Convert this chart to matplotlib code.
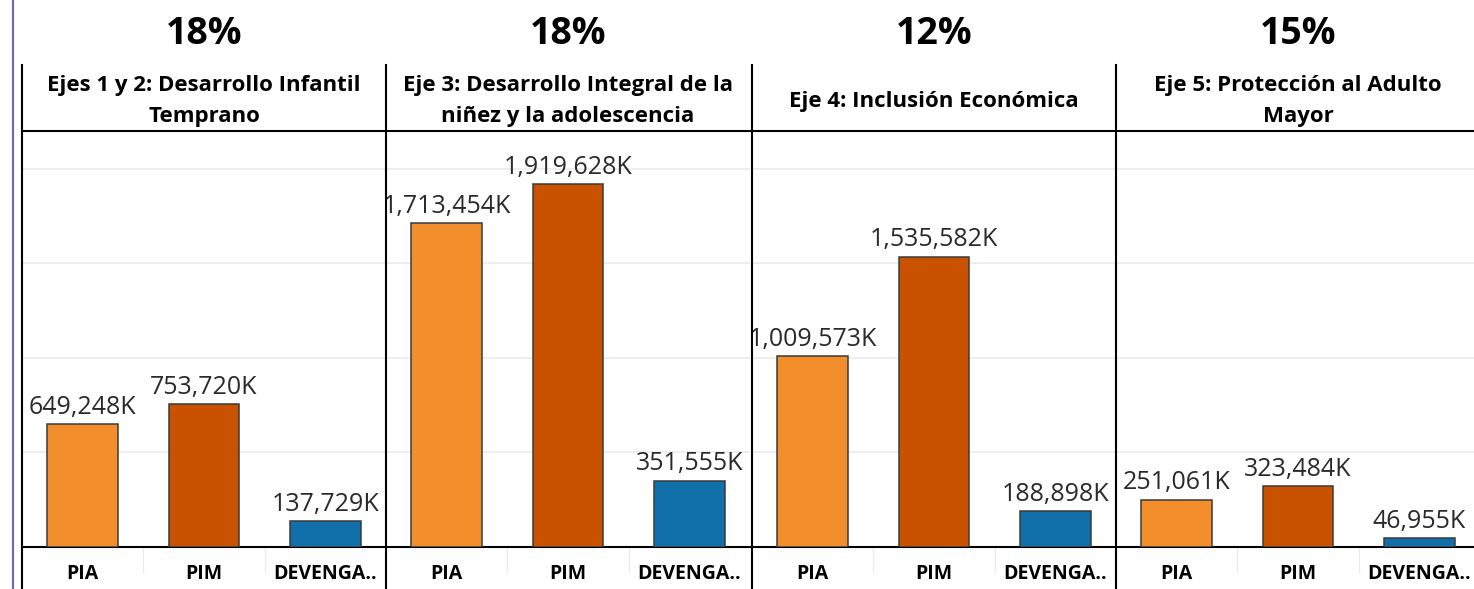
import numpy as np
import matplotlib.pyplot as plt
from matplotlib.lines import Line2D

plt.rcParams['font.family'] = ['Open Sans', 'DejaVu Sans']

# data (values in thousands, shown with "K")
ejes = ["Ejes 1 y 2: Desarrollo Infantil\nTemprano",
        "Eje 3: Desarrollo Integral de la\nniñez y la adolescencia",
        "Eje 4: Inclusión Económica",
        "Eje 5: Protección al Adulto\nMayor"]
porcentajes = ["18%", "18%", "12%", "15%"]
categorias = ["PIA", "PIM", "DEVENGA.."]
pia = [649248, 1713454, 1009573, 251061]
pim = [753720, 1919628, 1535582, 323484]
devengado = [137729, 351555, 188898, 46955]
colores = ["#F28E2B", "#C85200", "#1170AA"]

W, H = 1474, 589
fig = plt.figure(figsize=(W/100, H/100), dpi=100)

panel_x = [22, 386, 752, 1116]
panel_w = 364
top_px, base_px = 131, 547

for i in range(4):
    ax = fig.add_axes([panel_x[i]/W, (H-base_px)/H, panel_w/W, (base_px-top_px)/H])
    vals = [pia[i], pim[i], devengado[i]]
    x = np.arange(3)
    ax.bar(x, vals, width=0.58, color=colores, edgecolor="#3a3a3a", linewidth=1.1, zorder=3)
    for xi, v in zip(x, vals):
        ax.annotate(f"{v:,}K", (xi, v), xytext=(0, 3), textcoords="offset points",
                    ha="center", va="bottom", fontsize=18, color="#2a2a2a", zorder=4)
    ax.set_xlim(-0.5, 2.5)
    ax.set_ylim(0, 2200000)
    ax.set_yticks([500000, 1000000, 1500000, 2000000])
    ax.yaxis.grid(True, color="#ebebeb", linewidth=1.2, zorder=0)
    ax.tick_params(axis="y", left=False, labelleft=False)
    ax.set_xticks(x)
    ax.set_xticklabels(categorias, fontsize=14, fontweight="bold")
    ax.tick_params(axis="x", length=0, pad=12)
    for s in ["left", "right"]:
        ax.spines[s].set_visible(False)
    ax.spines["top"].set_color("black")
    ax.spines["top"].set_linewidth(1.5)
    ax.spines["bottom"].set_color("black")
    ax.spines["bottom"].set_linewidth(1.5)
    # separators between categories
    for sx in [0.5, 1.5]:
        ax.plot([sx, sx], [0, -0.06], transform=ax.get_xaxis_transform(),
                color="#ebebeb", linewidth=1, clip_on=False)

    cx = (panel_x[i] + panel_w/2) / W
    if i == 3:
        cx = (panel_x[i] + (W - panel_x[i])/2 + 3) / W
    fig.text(cx, 1 - 101/H, ejes[i], ha="center", va="center", fontsize=16,
             fontweight="bold", linespacing=1.62)
    fig.text(cx, 1 - 34/H, porcentajes[i], ha="center", va="center", fontsize=27,
             fontweight="bold")
    # panel divider line
    fig.add_artist(Line2D([panel_x[i]/W]*2, [0, 1 - 65/H], color="black", linewidth=1.5))

# left purple border
fig.add_artist(Line2D([13/W]*2, [0, 1], color="#6f66b5", linewidth=1.5))

fig.savefig("out.png", dpi=100)
